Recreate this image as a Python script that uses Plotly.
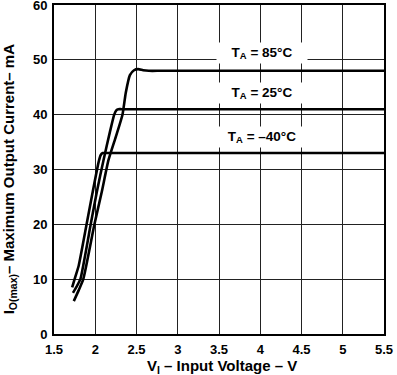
import plotly.graph_objects as go

# Data (V_I in volts, I_O(max) in mA)
v_m40 = [1.72, 1.76, 1.80, 1.895, 1.97, 2.04, 2.065, 2.09, 2.12, 2.3, 5.5]
i_m40 = [8.5, 10.5, 12.5, 20.0, 26.0, 31.3, 32.6, 33.0, 33.0, 33.0, 33.0]

v_25 = [1.73, 1.78, 1.82, 1.945, 2.02, 2.10, 2.18, 2.23, 2.255, 2.28, 2.32, 2.5, 5.5]
i_25 = [7.5, 8.8, 10.0, 20.0, 26.0, 31.7, 37.0, 40.0, 40.8, 41.0, 41.0, 41.0, 41.0]

v_85 = [1.74, 1.80, 1.855, 1.99, 2.08, 2.16, 2.25, 2.33, 2.37, 2.42, 2.47, 2.52, 2.58, 2.65, 2.8, 5.5]
i_85 = [6.0, 8.0, 10.0, 20.0, 26.0, 31.7, 36.0, 40.0, 44.0, 47.2, 48.1, 48.3, 48.1, 48.0, 48.0, 48.0]

labels = ["T<sub>A</sub> = 85°C", "T<sub>A</sub> = 25°C", "T<sub>A</sub> = –40°C"]
label_x = [4.02, 4.02, 4.02]
label_y = [51.2, 43.9, 35.9]

x_ticks = [1.5, 2, 2.5, 3, 3.5, 4, 4.5, 5, 5.5]
x_tick_text = ["1.5", "2", "2.5", "3", "3.5", "4", "4.5", "5", "5.5"]
y_ticks = [0, 10, 20, 30, 40, 50, 60]

x_title = "V<sub>I</sub> – Input Voltage – V"
y_title = "I<sub>O(max)</sub>– Maximum Output Current– mA"

FAM = "Liberation Sans, Arial, sans-serif"
font = dict(family=FAM, size=13, color="black")

fig = go.Figure()
for vx, iy in [(v_m40, i_m40), (v_25, i_25), (v_85, i_85)]:
    fig.add_trace(go.Scatter(x=vx, y=iy, mode="lines",
                             line=dict(color="black", width=2.6, shape="spline", smoothing=0.5),
                             showlegend=False, hoverinfo="skip"))

for t, x, y in zip(labels, label_x, label_y):
    fig.add_annotation(x=x, y=y, text="<b>" + t + "</b>", showarrow=False,
                       bgcolor="white", width=88, height=18,
                       font=dict(family=FAM, size=13.5, color="black"))

# axis titles as annotations for exact placement
fig.add_annotation(xref="paper", yref="paper", x=0.51, y=0, yanchor="middle",
                   yshift=-32, text="<b>" + x_title + "</b>", showarrow=False,
                   font=dict(family=FAM, size=15, color="black"))
fig.add_annotation(xref="paper", yref="paper", x=0, y=0.47, xanchor="center",
                   xshift=-45, textangle=-90, text="<b>" + y_title + "</b>", showarrow=False,
                   font=dict(family=FAM, size=15, color="black"))

fig.update_layout(
    width=397, height=375,
    margin=dict(l=54, r=13, t=5, b=41, autoexpand=False),
    paper_bgcolor="white", plot_bgcolor="white",
    font=font,
    xaxis=dict(range=[1.5, 5.5], tickvals=x_ticks, ticktext=["<b>" + s + "</b>" for s in x_tick_text],
               showgrid=True, gridcolor="#222", gridwidth=1, zeroline=False, automargin=False,
               showline=True, linecolor="black", linewidth=2, mirror=True, ticks="",
               ticklabelstandoff=2, ticklabeloverflow="allow"),
    yaxis=dict(range=[0, 60], tickvals=y_ticks, ticktext=["<b>%d</b>" % v for v in y_ticks],
               showgrid=True, gridcolor="#222", gridwidth=1, zeroline=False, automargin=False,
               showline=True, linecolor="black", linewidth=2, mirror=True, ticks="",
               ticklabelstandoff=2, ticklabeloverflow="allow"),
)

fig.write_html("out.html", config={"displayModeBar": False, "staticPlot": True},
               post_script="document.body.style.margin='0';document.body.style.overflow='hidden';")
